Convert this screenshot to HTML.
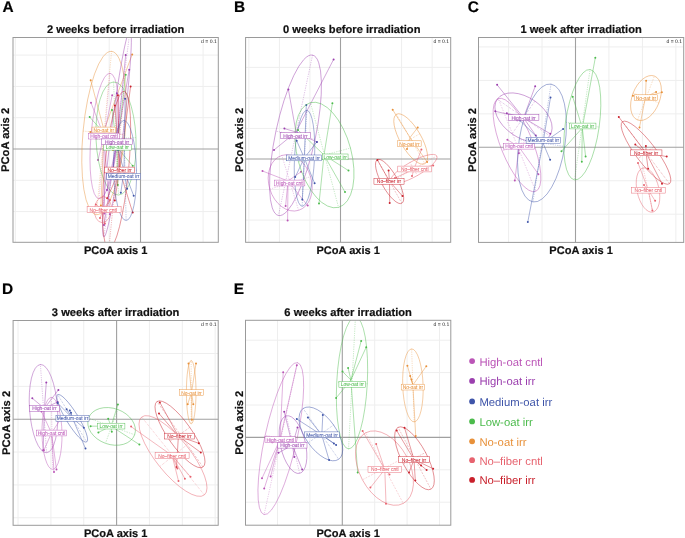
<!DOCTYPE html>
<html><head><meta charset="utf-8"><style>html,body{margin:0;padding:0;background:#fff;width:685px;height:538px;overflow:hidden}svg{display:block;will-change:transform}</style></head>
<body>
<svg text-rendering="geometricPrecision" width="685" height="538" viewBox="0 0 685 538" font-family='"Liberation Sans", sans-serif'><rect width="685" height="538" fill="#fff"/><clipPath id="clipA"><rect x="13.0" y="37.5" width="205.3" height="204.8"/></clipPath>
<g stroke="#eeeeee" stroke-width="1"><line x1="15.30" y1="37.5" x2="15.30" y2="242.3"/><line x1="46.60" y1="37.5" x2="46.60" y2="242.3"/><line x1="13.0" y1="55.10" x2="218.3" y2="55.10"/><line x1="77.90" y1="37.5" x2="77.90" y2="242.3"/><line x1="13.0" y1="86.40" x2="218.3" y2="86.40"/><line x1="109.20" y1="37.5" x2="109.20" y2="242.3"/><line x1="13.0" y1="117.70" x2="218.3" y2="117.70"/><line x1="171.80" y1="37.5" x2="171.80" y2="242.3"/><line x1="13.0" y1="180.30" x2="218.3" y2="180.30"/><line x1="203.10" y1="37.5" x2="203.10" y2="242.3"/><line x1="13.0" y1="211.60" x2="218.3" y2="211.60"/></g>
<g stroke="#a0a0a0" stroke-width="1.1"><line x1="140.5" y1="37.5" x2="140.5" y2="242.3"/><line x1="13.0" y1="149.0" x2="218.3" y2="149.0"/></g>
<g clip-path="url(#clipA)"><ellipse cx="104" cy="133" rx="82" ry="21" transform="rotate(95.3 104 133)" fill="none" stroke="#e8913a" stroke-width="0.45"/><path d="M111.57 51.35L96.43 214.65M124.91 134.94L83.09 131.06" stroke="#e8913a" stroke-width="0.5" stroke-dasharray="0.6 1.2" fill="none"/><line x1="104" y1="130" x2="132.2" y2="54.4" stroke="#e8913a" stroke-width="0.45"/><line x1="104" y1="130" x2="90.7" y2="80.3" stroke="#e8913a" stroke-width="0.45"/><line x1="104" y1="130" x2="90.3" y2="132" stroke="#e8913a" stroke-width="0.45"/><line x1="104" y1="130" x2="100.9" y2="205.6" stroke="#e8913a" stroke-width="0.45"/><line x1="104" y1="130" x2="113" y2="150" stroke="#e8913a" stroke-width="0.45"/><circle cx="132.2" cy="54.4" r="1.0" fill="#e8913a"/><circle cx="90.7" cy="80.3" r="1.0" fill="#e8913a"/><circle cx="90.3" cy="132" r="1.0" fill="#e8913a"/><circle cx="100.9" cy="205.6" r="1.0" fill="#e8913a"/><circle cx="113" cy="150" r="1.0" fill="#e8913a"/><ellipse cx="104.5" cy="136" rx="63" ry="13.5" transform="rotate(95 104.5 136)" fill="none" stroke="#bb55b7" stroke-width="0.45"/><path d="M109.99 73.24L99.01 198.76M117.95 137.18L91.05 134.82" stroke="#bb55b7" stroke-width="0.5" stroke-dasharray="0.6 1.2" fill="none"/><line x1="104" y1="136" x2="91" y2="102.8" stroke="#bb55b7" stroke-width="0.45"/><line x1="104" y1="136" x2="104.4" y2="213.6" stroke="#bb55b7" stroke-width="0.45"/><line x1="104" y1="136" x2="109.8" y2="214.2" stroke="#bb55b7" stroke-width="0.45"/><line x1="104" y1="136" x2="112.2" y2="95.2" stroke="#bb55b7" stroke-width="0.45"/><line x1="104" y1="136" x2="98" y2="160" stroke="#bb55b7" stroke-width="0.45"/><circle cx="91" cy="102.8" r="1.0" fill="#bb55b7"/><circle cx="104.4" cy="213.6" r="1.0" fill="#bb55b7"/><circle cx="109.8" cy="214.2" r="1.0" fill="#bb55b7"/><circle cx="112.2" cy="95.2" r="1.0" fill="#bb55b7"/><circle cx="98" cy="160" r="1.0" fill="#bb55b7"/><ellipse cx="116" cy="138.5" rx="56.6" ry="20" transform="rotate(87.5 116 138.5)" fill="none" stroke="#4cbb4c" stroke-width="0.45"/><path d="M113.53 81.95L118.47 195.05M135.98 137.63L96.02 139.37" stroke="#4cbb4c" stroke-width="0.5" stroke-dasharray="0.6 1.2" fill="none"/><line x1="117" y1="147.5" x2="125.7" y2="74.8" stroke="#4cbb4c" stroke-width="0.45"/><line x1="117" y1="147.5" x2="89.7" y2="117.1" stroke="#4cbb4c" stroke-width="0.45"/><line x1="117" y1="147.5" x2="132.7" y2="165.8" stroke="#4cbb4c" stroke-width="0.45"/><line x1="117" y1="147.5" x2="117.8" y2="185" stroke="#4cbb4c" stroke-width="0.45"/><line x1="117" y1="147.5" x2="112" y2="110" stroke="#4cbb4c" stroke-width="0.45"/><circle cx="125.7" cy="74.8" r="1.0" fill="#4cbb4c"/><circle cx="89.7" cy="117.1" r="1.0" fill="#4cbb4c"/><circle cx="132.7" cy="165.8" r="1.0" fill="#4cbb4c"/><circle cx="117.8" cy="185" r="1.0" fill="#4cbb4c"/><circle cx="112" cy="110" r="1.0" fill="#4cbb4c"/><ellipse cx="117" cy="133.5" rx="104.3" ry="6" transform="rotate(97.2 117 133.5)" fill="none" stroke="#9b3fae" stroke-width="0.45"/><path d="M130.07 30.02L103.93 236.98M122.95 134.25L111.05 132.75" stroke="#9b3fae" stroke-width="0.5" stroke-dasharray="0.6 1.2" fill="none"/><line x1="117" y1="141.5" x2="125.7" y2="55" stroke="#9b3fae" stroke-width="0.45"/><line x1="117" y1="141.5" x2="129.2" y2="69.7" stroke="#9b3fae" stroke-width="0.45"/><line x1="117" y1="141.5" x2="116.9" y2="93.2" stroke="#9b3fae" stroke-width="0.45"/><line x1="117" y1="141.5" x2="107" y2="190" stroke="#9b3fae" stroke-width="0.45"/><line x1="117" y1="141.5" x2="104" y2="225" stroke="#9b3fae" stroke-width="0.45"/><line x1="117" y1="141.5" x2="112" y2="175" stroke="#9b3fae" stroke-width="0.45"/><circle cx="125.7" cy="55" r="1.0" fill="#9b3fae"/><circle cx="129.2" cy="69.7" r="1.0" fill="#9b3fae"/><circle cx="116.9" cy="93.2" r="1.0" fill="#9b3fae"/><circle cx="107" cy="190" r="1.0" fill="#9b3fae"/><circle cx="104" cy="225" r="1.0" fill="#9b3fae"/><circle cx="112" cy="175" r="1.0" fill="#9b3fae"/><ellipse cx="116.5" cy="170" rx="79" ry="12" transform="rotate(95.5 116.5 170)" fill="none" stroke="#c9202b" stroke-width="0.45"/><path d="M124.07 91.36L108.93 248.64M128.44 171.15L104.56 168.85" stroke="#c9202b" stroke-width="0.5" stroke-dasharray="0.6 1.2" fill="none"/><line x1="119.5" y1="170" x2="130.6" y2="86.5" stroke="#c9202b" stroke-width="0.45"/><line x1="119.5" y1="170" x2="117.9" y2="95.2" stroke="#c9202b" stroke-width="0.45"/><line x1="119.5" y1="170" x2="114.9" y2="105.5" stroke="#c9202b" stroke-width="0.45"/><line x1="119.5" y1="170" x2="132.7" y2="212.6" stroke="#c9202b" stroke-width="0.45"/><line x1="119.5" y1="170" x2="114.8" y2="200.6" stroke="#c9202b" stroke-width="0.45"/><line x1="119.5" y1="170" x2="107.2" y2="198.3" stroke="#c9202b" stroke-width="0.45"/><circle cx="130.6" cy="86.5" r="1.0" fill="#c9202b"/><circle cx="117.9" cy="95.2" r="1.0" fill="#c9202b"/><circle cx="114.9" cy="105.5" r="1.0" fill="#c9202b"/><circle cx="132.7" cy="212.6" r="1.0" fill="#c9202b"/><circle cx="114.8" cy="200.6" r="1.0" fill="#c9202b"/><circle cx="107.2" cy="198.3" r="1.0" fill="#c9202b"/><ellipse cx="125" cy="170.5" rx="50" ry="11.5" transform="rotate(88.7 125 170.5)" fill="none" stroke="#3f55a9" stroke-width="0.45"/><path d="M123.87 120.51L126.13 220.49M136.50 170.24L113.50 170.76" stroke="#3f55a9" stroke-width="0.5" stroke-dasharray="0.6 1.2" fill="none"/><line x1="124" y1="170.6" x2="125.1" y2="98.7" stroke="#3f55a9" stroke-width="0.45"/><line x1="124" y1="170.6" x2="127.1" y2="188.7" stroke="#3f55a9" stroke-width="0.45"/><line x1="124" y1="170.6" x2="133.7" y2="195.7" stroke="#3f55a9" stroke-width="0.45"/><line x1="124" y1="170.6" x2="120.8" y2="192.7" stroke="#3f55a9" stroke-width="0.45"/><line x1="124" y1="170.6" x2="118" y2="150" stroke="#3f55a9" stroke-width="0.45"/><circle cx="125.1" cy="98.7" r="1.0" fill="#3f55a9"/><circle cx="127.1" cy="188.7" r="1.0" fill="#3f55a9"/><circle cx="133.7" cy="195.7" r="1.0" fill="#3f55a9"/><circle cx="120.8" cy="192.7" r="1.0" fill="#3f55a9"/><circle cx="118" cy="150" r="1.0" fill="#3f55a9"/><ellipse cx="102.9" cy="209.6" rx="13" ry="8.5" transform="rotate(95 102.9 209.6)" fill="none" stroke="#e7636f" stroke-width="0.45"/><path d="M104.03 196.65L101.77 222.55M111.37 210.34L94.43 208.86" stroke="#e7636f" stroke-width="0.5" stroke-dasharray="0.6 1.2" fill="none"/><line x1="103" y1="209.6" x2="95.9" y2="204.6" stroke="#e7636f" stroke-width="0.45"/><line x1="103" y1="209.6" x2="104.8" y2="223.5" stroke="#e7636f" stroke-width="0.45"/><line x1="103" y1="209.6" x2="110" y2="200" stroke="#e7636f" stroke-width="0.45"/><line x1="103" y1="209.6" x2="100" y2="218" stroke="#e7636f" stroke-width="0.45"/><circle cx="95.9" cy="204.6" r="1.0" fill="#e7636f"/><circle cx="104.8" cy="223.5" r="1.0" fill="#e7636f"/><circle cx="110" cy="200" r="1.0" fill="#e7636f"/><circle cx="100" cy="218" r="1.0" fill="#e7636f"/><rect x="92.00" y="127.10" width="23.6" height="5.8" fill="#fff" stroke="#e8913a" stroke-width="0.45"/><text x="103.80" y="132.00" font-size="5.6" fill="#e8913a" text-anchor="middle" stroke="#e8913a" stroke-width="0.05" textLength="20.50" lengthAdjust="spacingAndGlyphs">No-oat irr</text><rect x="88.35" y="133.20" width="31.3" height="5.8" fill="#fff" stroke="#bb55b7" stroke-width="0.45"/><text x="104.00" y="138.10" font-size="5.6" fill="#bb55b7" text-anchor="middle" stroke="#bb55b7" stroke-width="0.05" textLength="27.62" lengthAdjust="spacingAndGlyphs">High-oat cntl</text><rect x="103.40" y="144.30" width="28" height="5.8" fill="#fff" stroke="#4cbb4c" stroke-width="0.45"/><text x="117.40" y="149.20" font-size="5.6" fill="#4cbb4c" text-anchor="middle" stroke="#4cbb4c" stroke-width="0.05" textLength="23.24" lengthAdjust="spacingAndGlyphs">Low-oat irr</text><rect x="101.50" y="138.90" width="31.2" height="5.8" fill="#fff" stroke="#9b3fae" stroke-width="0.45"/><text x="117.10" y="143.80" font-size="5.6" fill="#9b3fae" text-anchor="middle" stroke="#9b3fae" stroke-width="0.05" textLength="24.33" lengthAdjust="spacingAndGlyphs">High-oat irr</text><rect x="104.45" y="167.10" width="30.3" height="5.8" fill="#fff" stroke="#c9202b" stroke-width="0.45"/><text x="119.60" y="172.00" font-size="5.6" fill="#c9202b" text-anchor="middle" stroke="#c9202b" stroke-width="0.05" textLength="24.33" lengthAdjust="spacingAndGlyphs">No–fiber irr</text><rect x="106.65" y="173.50" width="33.9" height="5.8" fill="#fff" stroke="#3f55a9" stroke-width="0.45"/><text x="123.60" y="178.40" font-size="5.6" fill="#3f55a9" text-anchor="middle" stroke="#3f55a9" stroke-width="0.05" textLength="31.71" lengthAdjust="spacingAndGlyphs">Medium-oat irr</text><rect x="87.10" y="206.60" width="34" height="5.8" fill="#fff" stroke="#e7636f" stroke-width="0.45"/><text x="103.20" y="211.50" font-size="5.6" fill="#e7636f" text-anchor="middle" stroke="#e7636f" stroke-width="0.05" textLength="27.62" lengthAdjust="spacingAndGlyphs">No–fiber cntl</text></g>
<rect x="200.8" y="38.0" width="17" height="5.6" fill="#fff"/>
<text x="216.8" y="42.85" font-size="5.1" text-anchor="end" fill="#222">d = 0.1</text>
<rect x="13.0" y="37.5" width="205.3" height="204.8" fill="none" stroke="#9a9a9a" stroke-width="1"/>
<text x="115.65" y="32.90" font-size="11.15" font-weight="bold" text-anchor="middle" fill="#111" stroke="#111" stroke-width="0.2">2 weeks before irradiation</text>
<text x="115.65" y="253.80" font-size="11.05" font-weight="bold" text-anchor="middle" fill="#111" stroke="#111" stroke-width="0.2">PCoA axis 1</text>
<text x="8.9" y="139.90" font-size="11.15" font-weight="bold" text-anchor="middle" fill="#111" stroke="#111" stroke-width="0.2" transform="rotate(-90 8.9 139.90)">PCoA axis 2</text>
<text x="2.5" y="12.0" font-size="15.4" font-weight="bold" fill="#000" stroke="#000" stroke-width="0.2">A</text><clipPath id="clipB"><rect x="245.6" y="37.5" width="205.1" height="204.8"/></clipPath>
<g stroke="#eeeeee" stroke-width="1"><line x1="248.85" y1="37.5" x2="248.85" y2="242.3"/><line x1="245.6" y1="67.35" x2="450.7" y2="67.35"/><line x1="279.40" y1="37.5" x2="279.40" y2="242.3"/><line x1="245.6" y1="97.90" x2="450.7" y2="97.90"/><line x1="309.95" y1="37.5" x2="309.95" y2="242.3"/><line x1="245.6" y1="128.45" x2="450.7" y2="128.45"/><line x1="371.05" y1="37.5" x2="371.05" y2="242.3"/><line x1="245.6" y1="189.55" x2="450.7" y2="189.55"/><line x1="401.60" y1="37.5" x2="401.60" y2="242.3"/><line x1="245.6" y1="220.10" x2="450.7" y2="220.10"/><line x1="432.15" y1="37.5" x2="432.15" y2="242.3"/></g>
<g stroke="#a0a0a0" stroke-width="1.1"><line x1="340.5" y1="37.5" x2="340.5" y2="242.3"/><line x1="245.6" y1="159.0" x2="450.7" y2="159.0"/></g>
<g clip-path="url(#clipB)"><ellipse cx="295.5" cy="135.3" rx="82" ry="20" transform="rotate(102 295.5 135.3)" fill="none" stroke="#9b3fae" stroke-width="0.45"/><path d="M312.55 55.09L278.45 215.51M315.06 139.46L275.94 131.14" stroke="#9b3fae" stroke-width="0.5" stroke-dasharray="0.6 1.2" fill="none"/><line x1="296" y1="132" x2="333.6" y2="59.4" stroke="#9b3fae" stroke-width="0.45"/><line x1="296" y1="132" x2="288.4" y2="89.5" stroke="#9b3fae" stroke-width="0.45"/><line x1="296" y1="132" x2="284.4" y2="128.6" stroke="#9b3fae" stroke-width="0.45"/><line x1="296" y1="132" x2="316.9" y2="142" stroke="#9b3fae" stroke-width="0.45"/><line x1="296" y1="132" x2="274" y2="150" stroke="#9b3fae" stroke-width="0.45"/><circle cx="333.6" cy="59.4" r="1.0" fill="#9b3fae"/><circle cx="288.4" cy="89.5" r="1.0" fill="#9b3fae"/><circle cx="284.4" cy="128.6" r="1.0" fill="#9b3fae"/><circle cx="316.9" cy="142" r="1.0" fill="#9b3fae"/><circle cx="274" cy="150" r="1.0" fill="#9b3fae"/><ellipse cx="290.2" cy="182.9" rx="28.7" ry="21.3" transform="rotate(73 290.2 182.9)" fill="none" stroke="#bb55b7" stroke-width="0.45"/><path d="M281.81 155.45L298.59 210.35M310.57 176.67L269.83 189.13" stroke="#bb55b7" stroke-width="0.5" stroke-dasharray="0.6 1.2" fill="none"/><line x1="288" y1="181" x2="262.5" y2="171" stroke="#bb55b7" stroke-width="0.45"/><line x1="288" y1="181" x2="287.6" y2="220.6" stroke="#bb55b7" stroke-width="0.45"/><line x1="288" y1="181" x2="285.6" y2="206" stroke="#bb55b7" stroke-width="0.45"/><line x1="288" y1="181" x2="307.7" y2="205.6" stroke="#bb55b7" stroke-width="0.45"/><line x1="288" y1="181" x2="301" y2="171.8" stroke="#bb55b7" stroke-width="0.45"/><circle cx="262.5" cy="171" r="1.0" fill="#bb55b7"/><circle cx="287.6" cy="220.6" r="1.0" fill="#bb55b7"/><circle cx="285.6" cy="206" r="1.0" fill="#bb55b7"/><circle cx="307.7" cy="205.6" r="1.0" fill="#bb55b7"/><circle cx="301" cy="171.8" r="1.0" fill="#bb55b7"/><ellipse cx="304.5" cy="158.3" rx="48" ry="10" transform="rotate(92.8 304.5 158.3)" fill="none" stroke="#3f55a9" stroke-width="0.45"/><path d="M306.84 110.36L302.16 206.24M314.49 158.79L294.51 157.81" stroke="#3f55a9" stroke-width="0.5" stroke-dasharray="0.6 1.2" fill="none"/><line x1="304.3" y1="158" x2="306.3" y2="105" stroke="#3f55a9" stroke-width="0.45"/><line x1="304.3" y1="158" x2="296.7" y2="140.8" stroke="#3f55a9" stroke-width="0.45"/><line x1="304.3" y1="158" x2="316.8" y2="141.9" stroke="#3f55a9" stroke-width="0.45"/><line x1="304.3" y1="158" x2="302.3" y2="199.5" stroke="#3f55a9" stroke-width="0.45"/><line x1="304.3" y1="158" x2="314.6" y2="183.2" stroke="#3f55a9" stroke-width="0.45"/><line x1="304.3" y1="158" x2="295.2" y2="177.1" stroke="#3f55a9" stroke-width="0.45"/><circle cx="306.3" cy="105" r="1.0" fill="#3f55a9"/><circle cx="296.7" cy="140.8" r="1.0" fill="#3f55a9"/><circle cx="316.8" cy="141.9" r="1.0" fill="#3f55a9"/><circle cx="302.3" cy="199.5" r="1.0" fill="#3f55a9"/><circle cx="314.6" cy="183.2" r="1.0" fill="#3f55a9"/><circle cx="295.2" cy="177.1" r="1.0" fill="#3f55a9"/><ellipse cx="324.5" cy="155" rx="54.2" ry="26.9" transform="rotate(75 324.5 155)" fill="none" stroke="#4cbb4c" stroke-width="0.45"/><path d="M310.47 102.65L338.53 207.35M350.48 148.04L298.52 161.96" stroke="#4cbb4c" stroke-width="0.5" stroke-dasharray="0.6 1.2" fill="none"/><line x1="324" y1="155" x2="332.4" y2="103.2" stroke="#4cbb4c" stroke-width="0.45"/><line x1="324" y1="155" x2="298" y2="130" stroke="#4cbb4c" stroke-width="0.45"/><line x1="324" y1="155" x2="348.5" y2="170.6" stroke="#4cbb4c" stroke-width="0.45"/><line x1="324" y1="155" x2="345" y2="192" stroke="#4cbb4c" stroke-width="0.45"/><line x1="324" y1="155" x2="319" y2="203.5" stroke="#4cbb4c" stroke-width="0.45"/><circle cx="332.4" cy="103.2" r="1.0" fill="#4cbb4c"/><circle cx="298" cy="130" r="1.0" fill="#4cbb4c"/><circle cx="348.5" cy="170.6" r="1.0" fill="#4cbb4c"/><circle cx="345" cy="192" r="1.0" fill="#4cbb4c"/><circle cx="319" cy="203.5" r="1.0" fill="#4cbb4c"/><ellipse cx="410.7" cy="139" rx="28.5" ry="10.5" transform="rotate(60 410.7 139)" fill="none" stroke="#e8913a" stroke-width="0.45"/><path d="M396.45 114.32L424.95 163.68M419.79 133.75L401.61 144.25" stroke="#e8913a" stroke-width="0.5" stroke-dasharray="0.6 1.2" fill="none"/><line x1="410" y1="137.5" x2="392.7" y2="109.8" stroke="#e8913a" stroke-width="0.45"/><line x1="410" y1="137.5" x2="417.7" y2="127.6" stroke="#e8913a" stroke-width="0.45"/><line x1="410" y1="137.5" x2="407" y2="149" stroke="#e8913a" stroke-width="0.45"/><line x1="410" y1="137.5" x2="427.1" y2="162" stroke="#e8913a" stroke-width="0.45"/><circle cx="392.7" cy="109.8" r="1.0" fill="#e8913a"/><circle cx="417.7" cy="127.6" r="1.0" fill="#e8913a"/><circle cx="407" cy="149" r="1.0" fill="#e8913a"/><circle cx="427.1" cy="162" r="1.0" fill="#e8913a"/><ellipse cx="413.7" cy="169" rx="26.5" ry="7.5" transform="rotate(-29.5 413.7 169)" fill="none" stroke="#e7636f" stroke-width="0.45"/><path d="M390.64 182.05L436.76 155.95M410.01 162.47L417.39 175.53" stroke="#e7636f" stroke-width="0.5" stroke-dasharray="0.6 1.2" fill="none"/><line x1="414" y1="169" x2="421.4" y2="149.5" stroke="#e7636f" stroke-width="0.45"/><line x1="414" y1="169" x2="433.2" y2="165.5" stroke="#e7636f" stroke-width="0.45"/><line x1="414" y1="169" x2="395" y2="178" stroke="#e7636f" stroke-width="0.45"/><line x1="414" y1="169" x2="412" y2="176" stroke="#e7636f" stroke-width="0.45"/><circle cx="421.4" cy="149.5" r="1.0" fill="#e7636f"/><circle cx="433.2" cy="165.5" r="1.0" fill="#e7636f"/><circle cx="395" cy="178" r="1.0" fill="#e7636f"/><circle cx="412" cy="176" r="1.0" fill="#e7636f"/><ellipse cx="389.6" cy="181.5" rx="25" ry="8" transform="rotate(60.6 389.6 181.5)" fill="none" stroke="#c9202b" stroke-width="0.45"/><path d="M377.33 159.72L401.87 203.28M396.57 177.57L382.63 185.43" stroke="#c9202b" stroke-width="0.5" stroke-dasharray="0.6 1.2" fill="none"/><line x1="389.5" y1="181.3" x2="377.4" y2="160" stroke="#c9202b" stroke-width="0.45"/><line x1="389.5" y1="181.3" x2="388.6" y2="170.6" stroke="#c9202b" stroke-width="0.45"/><line x1="389.5" y1="181.3" x2="402.5" y2="196.1" stroke="#c9202b" stroke-width="0.45"/><line x1="389.5" y1="181.3" x2="389.7" y2="202.9" stroke="#c9202b" stroke-width="0.45"/><circle cx="377.4" cy="160" r="1.0" fill="#c9202b"/><circle cx="388.6" cy="170.6" r="1.0" fill="#c9202b"/><circle cx="402.5" cy="196.1" r="1.0" fill="#c9202b"/><circle cx="389.7" cy="202.9" r="1.0" fill="#c9202b"/><rect x="280.35" y="132.70" width="30.1" height="5.8" fill="#fff" stroke="#9b3fae" stroke-width="0.45"/><text x="295.40" y="137.60" font-size="5.6" fill="#9b3fae" text-anchor="middle" stroke="#9b3fae" stroke-width="0.05" textLength="24.33" lengthAdjust="spacingAndGlyphs">High-oat irr</text><rect x="274.75" y="180.10" width="30.1" height="5.8" fill="#fff" stroke="#bb55b7" stroke-width="0.45"/><text x="289.80" y="185.00" font-size="5.6" fill="#bb55b7" text-anchor="middle" stroke="#bb55b7" stroke-width="0.05" textLength="27.62" lengthAdjust="spacingAndGlyphs">High-oat cntl</text><rect x="286.70" y="155.00" width="34.8" height="5.8" fill="#fff" stroke="#3f55a9" stroke-width="0.45"/><text x="304.10" y="159.90" font-size="5.6" fill="#3f55a9" text-anchor="middle" stroke="#3f55a9" stroke-width="0.05" textLength="31.71" lengthAdjust="spacingAndGlyphs">Medium-oat irr</text><rect x="322.35" y="154.00" width="25.7" height="5.8" fill="#fff" stroke="#4cbb4c" stroke-width="0.45"/><text x="335.20" y="158.90" font-size="5.6" fill="#4cbb4c" text-anchor="middle" stroke="#4cbb4c" stroke-width="0.05" textLength="23.24" lengthAdjust="spacingAndGlyphs">Low-oat irr</text><rect x="397.65" y="140.80" width="23.5" height="5.8" fill="#fff" stroke="#e8913a" stroke-width="0.45"/><text x="409.40" y="145.70" font-size="5.6" fill="#e8913a" text-anchor="middle" stroke="#e8913a" stroke-width="0.05" textLength="20.50" lengthAdjust="spacingAndGlyphs">No-oat irr</text><rect x="397.80" y="166.10" width="33.8" height="5.8" fill="#fff" stroke="#e7636f" stroke-width="0.45"/><text x="414.70" y="171.00" font-size="5.6" fill="#e7636f" text-anchor="middle" stroke="#e7636f" stroke-width="0.05" textLength="27.62" lengthAdjust="spacingAndGlyphs">No–fiber cntl</text><rect x="373.95" y="178.40" width="30.1" height="5.8" fill="#fff" stroke="#c9202b" stroke-width="0.45"/><text x="389.00" y="183.30" font-size="5.6" fill="#c9202b" text-anchor="middle" stroke="#c9202b" stroke-width="0.05" textLength="24.33" lengthAdjust="spacingAndGlyphs">No–fiber irr</text></g>
<rect x="433.2" y="38.0" width="17" height="5.6" fill="#fff"/>
<text x="449.2" y="42.85" font-size="5.1" text-anchor="end" fill="#222">d = 0.1</text>
<rect x="245.6" y="37.5" width="205.1" height="204.8" fill="none" stroke="#9a9a9a" stroke-width="1"/>
<text x="351.75" y="32.90" font-size="11.15" font-weight="bold" text-anchor="middle" fill="#111" stroke="#111" stroke-width="0.2">0 weeks before irradiation</text>
<text x="348.15" y="253.80" font-size="11.05" font-weight="bold" text-anchor="middle" fill="#111" stroke="#111" stroke-width="0.2">PCoA axis 1</text>
<text x="242.6" y="139.90" font-size="11.15" font-weight="bold" text-anchor="middle" fill="#111" stroke="#111" stroke-width="0.2" transform="rotate(-90 242.6 139.90)">PCoA axis 2</text>
<text x="234.0" y="12.0" font-size="15.4" font-weight="bold" fill="#000" stroke="#000" stroke-width="0.2">B</text><clipPath id="clipC"><rect x="478.5" y="37.5" width="205.20000000000005" height="204.9"/></clipPath>
<g stroke="#eeeeee" stroke-width="1"><line x1="478.5" y1="46.95" x2="683.7" y2="46.95"/><line x1="508.60" y1="37.5" x2="508.60" y2="242.4"/><line x1="478.5" y1="80.40" x2="683.7" y2="80.40"/><line x1="542.05" y1="37.5" x2="542.05" y2="242.4"/><line x1="478.5" y1="113.85" x2="683.7" y2="113.85"/><line x1="608.95" y1="37.5" x2="608.95" y2="242.4"/><line x1="478.5" y1="180.75" x2="683.7" y2="180.75"/><line x1="642.40" y1="37.5" x2="642.40" y2="242.4"/><line x1="478.5" y1="214.20" x2="683.7" y2="214.20"/><line x1="675.85" y1="37.5" x2="675.85" y2="242.4"/></g>
<g stroke="#a0a0a0" stroke-width="1.1"><line x1="575.5" y1="37.5" x2="575.5" y2="242.4"/><line x1="478.5" y1="147.3" x2="683.7" y2="147.3"/></g>
<g clip-path="url(#clipC)"><ellipse cx="523.5" cy="117.5" rx="32" ry="20" transform="rotate(35 523.5 117.5)" fill="none" stroke="#9b3fae" stroke-width="0.45"/><path d="M497.29 99.15L549.71 135.85M534.97 101.12L512.03 133.88" stroke="#9b3fae" stroke-width="0.5" stroke-dasharray="0.6 1.2" fill="none"/><line x1="523.5" y1="117.8" x2="497.1" y2="84.8" stroke="#9b3fae" stroke-width="0.45"/><line x1="523.5" y1="117.8" x2="535.2" y2="86.3" stroke="#9b3fae" stroke-width="0.45"/><line x1="523.5" y1="117.8" x2="495.3" y2="111.3" stroke="#9b3fae" stroke-width="0.45"/><line x1="523.5" y1="117.8" x2="506.8" y2="113.2" stroke="#9b3fae" stroke-width="0.45"/><line x1="523.5" y1="117.8" x2="535.8" y2="135.5" stroke="#9b3fae" stroke-width="0.45"/><line x1="523.5" y1="117.8" x2="550.3" y2="133.8" stroke="#9b3fae" stroke-width="0.45"/><circle cx="497.1" cy="84.8" r="1.0" fill="#9b3fae"/><circle cx="535.2" cy="86.3" r="1.0" fill="#9b3fae"/><circle cx="495.3" cy="111.3" r="1.0" fill="#9b3fae"/><circle cx="506.8" cy="113.2" r="1.0" fill="#9b3fae"/><circle cx="535.8" cy="135.5" r="1.0" fill="#9b3fae"/><circle cx="550.3" cy="133.8" r="1.0" fill="#9b3fae"/><ellipse cx="517" cy="145" rx="50" ry="16" transform="rotate(68 517 145)" fill="none" stroke="#bb55b7" stroke-width="0.45"/><path d="M498.27 98.64L535.73 191.36M531.83 139.01L502.17 150.99" stroke="#bb55b7" stroke-width="0.5" stroke-dasharray="0.6 1.2" fill="none"/><line x1="519" y1="147" x2="507.4" y2="139.7" stroke="#bb55b7" stroke-width="0.45"/><line x1="519" y1="147" x2="518.9" y2="153.2" stroke="#bb55b7" stroke-width="0.45"/><line x1="519" y1="147" x2="514.8" y2="180.6" stroke="#bb55b7" stroke-width="0.45"/><line x1="519" y1="147" x2="538.4" y2="174.2" stroke="#bb55b7" stroke-width="0.45"/><circle cx="507.4" cy="139.7" r="1.0" fill="#bb55b7"/><circle cx="518.9" cy="153.2" r="1.0" fill="#bb55b7"/><circle cx="514.8" cy="180.6" r="1.0" fill="#bb55b7"/><circle cx="538.4" cy="174.2" r="1.0" fill="#bb55b7"/><ellipse cx="542" cy="143" rx="59.6" ry="23" transform="rotate(98.7 542 143)" fill="none" stroke="#3f55a9" stroke-width="0.45"/><path d="M551.02 84.09L532.98 201.91M564.74 146.48L519.26 139.52" stroke="#3f55a9" stroke-width="0.5" stroke-dasharray="0.6 1.2" fill="none"/><line x1="543" y1="143" x2="550.5" y2="97.4" stroke="#3f55a9" stroke-width="0.45"/><line x1="543" y1="143" x2="563.1" y2="129" stroke="#3f55a9" stroke-width="0.45"/><line x1="543" y1="143" x2="550.1" y2="159.7" stroke="#3f55a9" stroke-width="0.45"/><line x1="543" y1="143" x2="527.8" y2="222" stroke="#3f55a9" stroke-width="0.45"/><line x1="543" y1="143" x2="520" y2="120.5" stroke="#3f55a9" stroke-width="0.45"/><circle cx="550.5" cy="97.4" r="1.0" fill="#3f55a9"/><circle cx="563.1" cy="129" r="1.0" fill="#3f55a9"/><circle cx="550.1" cy="159.7" r="1.0" fill="#3f55a9"/><circle cx="527.8" cy="222" r="1.0" fill="#3f55a9"/><circle cx="520" cy="120.5" r="1.0" fill="#3f55a9"/><ellipse cx="582.3" cy="124.7" rx="55.7" ry="17" transform="rotate(98 582.3 124.7)" fill="none" stroke="#4cbb4c" stroke-width="0.45"/><path d="M590.05 69.54L574.55 179.86M599.13 127.07L565.47 122.33" stroke="#4cbb4c" stroke-width="0.5" stroke-dasharray="0.6 1.2" fill="none"/><line x1="582.3" y1="127.9" x2="595.3" y2="57.8" stroke="#4cbb4c" stroke-width="0.45"/><line x1="582.3" y1="127.9" x2="572.7" y2="96.8" stroke="#4cbb4c" stroke-width="0.45"/><line x1="582.3" y1="127.9" x2="561.5" y2="151.3" stroke="#4cbb4c" stroke-width="0.45"/><line x1="582.3" y1="127.9" x2="581.8" y2="161.7" stroke="#4cbb4c" stroke-width="0.45"/><line x1="582.3" y1="127.9" x2="585.6" y2="156.5" stroke="#4cbb4c" stroke-width="0.45"/><circle cx="595.3" cy="57.8" r="1.0" fill="#4cbb4c"/><circle cx="572.7" cy="96.8" r="1.0" fill="#4cbb4c"/><circle cx="561.5" cy="151.3" r="1.0" fill="#4cbb4c"/><circle cx="581.8" cy="161.7" r="1.0" fill="#4cbb4c"/><circle cx="585.6" cy="156.5" r="1.0" fill="#4cbb4c"/><ellipse cx="646" cy="98" rx="23.5" ry="13.8" transform="rotate(-69 646 98)" fill="none" stroke="#e8913a" stroke-width="0.45"/><path d="M637.58 119.94L654.42 76.06M633.12 93.05L658.88 102.95" stroke="#e8913a" stroke-width="0.5" stroke-dasharray="0.6 1.2" fill="none"/><line x1="645.5" y1="97" x2="646.1" y2="80.8" stroke="#e8913a" stroke-width="0.45"/><line x1="645.5" y1="97" x2="656.1" y2="91.9" stroke="#e8913a" stroke-width="0.45"/><line x1="645.5" y1="97" x2="661.9" y2="92.3" stroke="#e8913a" stroke-width="0.45"/><line x1="645.5" y1="97" x2="632.9" y2="95.8" stroke="#e8913a" stroke-width="0.45"/><line x1="645.5" y1="97" x2="639.5" y2="127.4" stroke="#e8913a" stroke-width="0.45"/><circle cx="646.1" cy="80.8" r="1.0" fill="#e8913a"/><circle cx="656.1" cy="91.9" r="1.0" fill="#e8913a"/><circle cx="661.9" cy="92.3" r="1.0" fill="#e8913a"/><circle cx="632.9" cy="95.8" r="1.0" fill="#e8913a"/><circle cx="639.5" cy="127.4" r="1.0" fill="#e8913a"/><ellipse cx="646" cy="152.7" rx="38.9" ry="10" transform="rotate(52.8 646 152.7)" fill="none" stroke="#c9202b" stroke-width="0.45"/><path d="M622.48 121.71L669.52 183.69M653.97 146.65L638.03 158.75" stroke="#c9202b" stroke-width="0.5" stroke-dasharray="0.6 1.2" fill="none"/><line x1="646" y1="152.8" x2="618.8" y2="117" stroke="#c9202b" stroke-width="0.45"/><line x1="646" y1="152.8" x2="635.3" y2="144.6" stroke="#c9202b" stroke-width="0.45"/><line x1="646" y1="152.8" x2="645.9" y2="145.9" stroke="#c9202b" stroke-width="0.45"/><line x1="646" y1="152.8" x2="666.7" y2="156.6" stroke="#c9202b" stroke-width="0.45"/><line x1="646" y1="152.8" x2="648.1" y2="168.8" stroke="#c9202b" stroke-width="0.45"/><line x1="646" y1="152.8" x2="662" y2="183.7" stroke="#c9202b" stroke-width="0.45"/><circle cx="618.8" cy="117" r="1.0" fill="#c9202b"/><circle cx="635.3" cy="144.6" r="1.0" fill="#c9202b"/><circle cx="645.9" cy="145.9" r="1.0" fill="#c9202b"/><circle cx="666.7" cy="156.6" r="1.0" fill="#c9202b"/><circle cx="648.1" cy="168.8" r="1.0" fill="#c9202b"/><circle cx="662" cy="183.7" r="1.0" fill="#c9202b"/><ellipse cx="648" cy="190" rx="22.6" ry="11" transform="rotate(77.6 648 190)" fill="none" stroke="#e7636f" stroke-width="0.45"/><path d="M643.15 167.93L652.85 212.07M658.74 187.64L637.26 192.36" stroke="#e7636f" stroke-width="0.5" stroke-dasharray="0.6 1.2" fill="none"/><line x1="648.4" y1="190.2" x2="638" y2="163" stroke="#e7636f" stroke-width="0.45"/><line x1="648.4" y1="190.2" x2="655.1" y2="200.8" stroke="#e7636f" stroke-width="0.45"/><line x1="648.4" y1="190.2" x2="652.4" y2="210.4" stroke="#e7636f" stroke-width="0.45"/><line x1="648.4" y1="190.2" x2="644" y2="185" stroke="#e7636f" stroke-width="0.45"/><circle cx="638" cy="163" r="1.0" fill="#e7636f"/><circle cx="655.1" cy="200.8" r="1.0" fill="#e7636f"/><circle cx="652.4" cy="210.4" r="1.0" fill="#e7636f"/><circle cx="644" cy="185" r="1.0" fill="#e7636f"/><rect x="508.30" y="114.60" width="30.6" height="5.8" fill="#fff" stroke="#9b3fae" stroke-width="0.45"/><text x="523.60" y="119.50" font-size="5.6" fill="#9b3fae" text-anchor="middle" stroke="#9b3fae" stroke-width="0.05" textLength="24.33" lengthAdjust="spacingAndGlyphs">High-oat irr</text><rect x="503.60" y="143.30" width="31" height="5.8" fill="#fff" stroke="#bb55b7" stroke-width="0.45"/><text x="519.10" y="148.20" font-size="5.6" fill="#bb55b7" text-anchor="middle" stroke="#bb55b7" stroke-width="0.05" textLength="27.62" lengthAdjust="spacingAndGlyphs">High-oat cntl</text><rect x="526.10" y="137.40" width="34.6" height="5.8" fill="#fff" stroke="#3f55a9" stroke-width="0.45"/><text x="543.40" y="142.30" font-size="5.6" fill="#3f55a9" text-anchor="middle" stroke="#3f55a9" stroke-width="0.05" textLength="31.71" lengthAdjust="spacingAndGlyphs">Medium-oat irr</text><rect x="569.25" y="123.10" width="26.7" height="5.8" fill="#fff" stroke="#4cbb4c" stroke-width="0.45"/><text x="582.60" y="128.00" font-size="5.6" fill="#4cbb4c" text-anchor="middle" stroke="#4cbb4c" stroke-width="0.05" textLength="23.24" lengthAdjust="spacingAndGlyphs">Low-oat irr</text><rect x="634.20" y="94.80" width="23.4" height="5.8" fill="#fff" stroke="#e8913a" stroke-width="0.45"/><text x="645.90" y="99.70" font-size="5.6" fill="#e8913a" text-anchor="middle" stroke="#e8913a" stroke-width="0.05" textLength="20.50" lengthAdjust="spacingAndGlyphs">No-oat irr</text><rect x="630.25" y="149.90" width="31.7" height="5.8" fill="#fff" stroke="#c9202b" stroke-width="0.45"/><text x="646.10" y="154.80" font-size="5.6" fill="#c9202b" text-anchor="middle" stroke="#c9202b" stroke-width="0.05" textLength="24.33" lengthAdjust="spacingAndGlyphs">No–fiber irr</text><rect x="631.60" y="187.30" width="33.6" height="5.8" fill="#fff" stroke="#e7636f" stroke-width="0.45"/><text x="648.40" y="192.20" font-size="5.6" fill="#e7636f" text-anchor="middle" stroke="#e7636f" stroke-width="0.05" textLength="27.62" lengthAdjust="spacingAndGlyphs">No–fiber cntl</text></g>
<rect x="666.2" y="38.0" width="17" height="5.6" fill="#fff"/>
<text x="682.2" y="42.85" font-size="5.1" text-anchor="end" fill="#222">d = 0.1</text>
<rect x="478.5" y="37.5" width="205.20000000000005" height="204.9" fill="none" stroke="#9a9a9a" stroke-width="1"/>
<text x="581.10" y="32.90" font-size="11.15" font-weight="bold" text-anchor="middle" fill="#111" stroke="#111" stroke-width="0.2">1 week after irradiation</text>
<text x="581.10" y="253.90" font-size="11.05" font-weight="bold" text-anchor="middle" fill="#111" stroke="#111" stroke-width="0.2">PCoA axis 1</text>
<text x="476.0" y="139.95" font-size="11.15" font-weight="bold" text-anchor="middle" fill="#111" stroke="#111" stroke-width="0.2" transform="rotate(-90 476.0 139.95)">PCoA axis 2</text>
<text x="467.7" y="12.0" font-size="15.4" font-weight="bold" fill="#000" stroke="#000" stroke-width="0.2">C</text><clipPath id="clipD"><rect x="13.1" y="320.5" width="205.1" height="204.79999999999995"/></clipPath>
<g stroke="#eeeeee" stroke-width="1"><line x1="18.05" y1="320.5" x2="18.05" y2="525.3"/><line x1="50.90" y1="320.5" x2="50.90" y2="525.3"/><line x1="13.1" y1="353.50" x2="218.2" y2="353.50"/><line x1="83.75" y1="320.5" x2="83.75" y2="525.3"/><line x1="13.1" y1="386.35" x2="218.2" y2="386.35"/><line x1="149.45" y1="320.5" x2="149.45" y2="525.3"/><line x1="13.1" y1="452.05" x2="218.2" y2="452.05"/><line x1="182.30" y1="320.5" x2="182.30" y2="525.3"/><line x1="13.1" y1="484.90" x2="218.2" y2="484.90"/><line x1="215.15" y1="320.5" x2="215.15" y2="525.3"/><line x1="13.1" y1="517.75" x2="218.2" y2="517.75"/></g>
<g stroke="#a0a0a0" stroke-width="1.1"><line x1="116.6" y1="320.5" x2="116.6" y2="525.3"/><line x1="13.1" y1="419.2" x2="218.2" y2="419.2"/></g>
<g clip-path="url(#clipD)"><ellipse cx="43.5" cy="408.6" rx="44.2" ry="14" transform="rotate(86 43.5 408.6)" fill="none" stroke="#9b3fae" stroke-width="0.45"/><path d="M40.42 364.51L46.58 452.69M57.47 407.62L29.53 409.58" stroke="#9b3fae" stroke-width="0.5" stroke-dasharray="0.6 1.2" fill="none"/><line x1="44.4" y1="408.3" x2="46.3" y2="382.6" stroke="#9b3fae" stroke-width="0.45"/><line x1="44.4" y1="408.3" x2="32.3" y2="398.3" stroke="#9b3fae" stroke-width="0.45"/><line x1="44.4" y1="408.3" x2="58.4" y2="389.9" stroke="#9b3fae" stroke-width="0.45"/><line x1="44.4" y1="408.3" x2="57.7" y2="401.9" stroke="#9b3fae" stroke-width="0.45"/><line x1="44.4" y1="408.3" x2="43.2" y2="450.2" stroke="#9b3fae" stroke-width="0.45"/><circle cx="46.3" cy="382.6" r="1.0" fill="#9b3fae"/><circle cx="32.3" cy="398.3" r="1.0" fill="#9b3fae"/><circle cx="58.4" cy="389.9" r="1.0" fill="#9b3fae"/><circle cx="57.7" cy="401.9" r="1.0" fill="#9b3fae"/><circle cx="43.2" cy="450.2" r="1.0" fill="#9b3fae"/><ellipse cx="52" cy="433.4" rx="36" ry="10" transform="rotate(89 52 433.4)" fill="none" stroke="#bb55b7" stroke-width="0.45"/><path d="M51.37 397.41L52.63 469.39M62.00 433.23L42.00 433.57" stroke="#bb55b7" stroke-width="0.5" stroke-dasharray="0.6 1.2" fill="none"/><line x1="51.5" y1="433" x2="54" y2="472" stroke="#bb55b7" stroke-width="0.45"/><line x1="51.5" y1="433" x2="56.5" y2="469.6" stroke="#bb55b7" stroke-width="0.45"/><line x1="51.5" y1="433" x2="43.9" y2="450.2" stroke="#bb55b7" stroke-width="0.45"/><line x1="51.5" y1="433" x2="41.5" y2="411.6" stroke="#bb55b7" stroke-width="0.45"/><line x1="51.5" y1="433" x2="60" y2="420" stroke="#bb55b7" stroke-width="0.45"/><circle cx="54" cy="472" r="1.0" fill="#bb55b7"/><circle cx="56.5" cy="469.6" r="1.0" fill="#bb55b7"/><circle cx="43.9" cy="450.2" r="1.0" fill="#bb55b7"/><circle cx="41.5" cy="411.6" r="1.0" fill="#bb55b7"/><circle cx="60" cy="420" r="1.0" fill="#bb55b7"/><ellipse cx="72.2" cy="418.3" rx="27.7" ry="6" transform="rotate(58.4 72.2 418.3)" fill="none" stroke="#3f55a9" stroke-width="0.45"/><path d="M57.69 394.71L86.71 441.89M77.31 415.16L67.09 421.44" stroke="#3f55a9" stroke-width="0.5" stroke-dasharray="0.6 1.2" fill="none"/><line x1="72.5" y1="418.3" x2="57.7" y2="403.1" stroke="#3f55a9" stroke-width="0.45"/><line x1="72.5" y1="418.3" x2="66.6" y2="409.2" stroke="#3f55a9" stroke-width="0.45"/><line x1="72.5" y1="418.3" x2="69.8" y2="410.4" stroke="#3f55a9" stroke-width="0.45"/><line x1="72.5" y1="418.3" x2="71" y2="412.8" stroke="#3f55a9" stroke-width="0.45"/><line x1="72.5" y1="418.3" x2="83.8" y2="427.8" stroke="#3f55a9" stroke-width="0.45"/><line x1="72.5" y1="418.3" x2="85.5" y2="448.6" stroke="#3f55a9" stroke-width="0.45"/><circle cx="57.7" cy="403.1" r="1.0" fill="#3f55a9"/><circle cx="66.6" cy="409.2" r="1.0" fill="#3f55a9"/><circle cx="69.8" cy="410.4" r="1.0" fill="#3f55a9"/><circle cx="71" cy="412.8" r="1.0" fill="#3f55a9"/><circle cx="83.8" cy="427.8" r="1.0" fill="#3f55a9"/><circle cx="85.5" cy="448.6" r="1.0" fill="#3f55a9"/><ellipse cx="111.6" cy="426.4" rx="24.5" ry="18" transform="rotate(20 111.6 426.4)" fill="none" stroke="#4cbb4c" stroke-width="0.45"/><path d="M88.58 418.02L134.62 434.78M117.76 409.49L105.44 443.31" stroke="#4cbb4c" stroke-width="0.5" stroke-dasharray="0.6 1.2" fill="none"/><line x1="111.1" y1="426.1" x2="117.9" y2="404.5" stroke="#4cbb4c" stroke-width="0.45"/><line x1="111.1" y1="426.1" x2="108.2" y2="418.8" stroke="#4cbb4c" stroke-width="0.45"/><line x1="111.1" y1="426.1" x2="90.6" y2="426.2" stroke="#4cbb4c" stroke-width="0.45"/><line x1="111.1" y1="426.1" x2="98.4" y2="432.4" stroke="#4cbb4c" stroke-width="0.45"/><line x1="111.1" y1="426.1" x2="111.8" y2="431.8" stroke="#4cbb4c" stroke-width="0.45"/><line x1="111.1" y1="426.1" x2="139.4" y2="444.6" stroke="#4cbb4c" stroke-width="0.45"/><circle cx="117.9" cy="404.5" r="1.0" fill="#4cbb4c"/><circle cx="108.2" cy="418.8" r="1.0" fill="#4cbb4c"/><circle cx="90.6" cy="426.2" r="1.0" fill="#4cbb4c"/><circle cx="98.4" cy="432.4" r="1.0" fill="#4cbb4c"/><circle cx="111.8" cy="431.8" r="1.0" fill="#4cbb4c"/><circle cx="139.4" cy="444.6" r="1.0" fill="#4cbb4c"/><ellipse cx="191.2" cy="392.2" rx="31.6" ry="4.8" transform="rotate(90 191.2 392.2)" fill="none" stroke="#e8913a" stroke-width="0.45"/><path d="M191.20 360.60L191.20 423.80M196.00 392.20L186.40 392.20" stroke="#e8913a" stroke-width="0.5" stroke-dasharray="0.6 1.2" fill="none"/><line x1="191.5" y1="392.5" x2="188.5" y2="363.4" stroke="#e8913a" stroke-width="0.45"/><line x1="191.5" y1="392.5" x2="196" y2="363.4" stroke="#e8913a" stroke-width="0.45"/><line x1="191.5" y1="392.5" x2="193.3" y2="404.3" stroke="#e8913a" stroke-width="0.45"/><line x1="191.5" y1="392.5" x2="187.7" y2="404.3" stroke="#e8913a" stroke-width="0.45"/><line x1="191.5" y1="392.5" x2="191.9" y2="419.7" stroke="#e8913a" stroke-width="0.45"/><circle cx="188.5" cy="363.4" r="1.0" fill="#e8913a"/><circle cx="196" cy="363.4" r="1.0" fill="#e8913a"/><circle cx="193.3" cy="404.3" r="1.0" fill="#e8913a"/><circle cx="187.7" cy="404.3" r="1.0" fill="#e8913a"/><circle cx="191.9" cy="419.7" r="1.0" fill="#e8913a"/><ellipse cx="180" cy="434.3" rx="40" ry="12" transform="rotate(54.9 180 434.3)" fill="none" stroke="#c9202b" stroke-width="0.45"/><path d="M157.00 401.57L203.00 467.03M189.82 427.40L170.18 441.20" stroke="#c9202b" stroke-width="0.5" stroke-dasharray="0.6 1.2" fill="none"/><line x1="178.4" y1="436.1" x2="159.8" y2="402.4" stroke="#c9202b" stroke-width="0.45"/><line x1="178.4" y1="436.1" x2="159" y2="413.5" stroke="#c9202b" stroke-width="0.45"/><line x1="178.4" y1="436.1" x2="198.8" y2="443.3" stroke="#c9202b" stroke-width="0.45"/><line x1="178.4" y1="436.1" x2="200.8" y2="452.5" stroke="#c9202b" stroke-width="0.45"/><line x1="178.4" y1="436.1" x2="176.5" y2="467" stroke="#c9202b" stroke-width="0.45"/><circle cx="159.8" cy="402.4" r="1.0" fill="#c9202b"/><circle cx="159" cy="413.5" r="1.0" fill="#c9202b"/><circle cx="198.8" cy="443.3" r="1.0" fill="#c9202b"/><circle cx="200.8" cy="452.5" r="1.0" fill="#c9202b"/><circle cx="176.5" cy="467" r="1.0" fill="#c9202b"/><ellipse cx="173" cy="456" rx="50" ry="17" transform="rotate(51.2 173 456)" fill="none" stroke="#e7636f" stroke-width="0.45"/><path d="M141.67 417.03L204.33 494.97M186.25 445.35L159.75 466.65" stroke="#e7636f" stroke-width="0.5" stroke-dasharray="0.6 1.2" fill="none"/><line x1="172.1" y1="455.6" x2="131.1" y2="426.6" stroke="#e7636f" stroke-width="0.45"/><line x1="172.1" y1="455.6" x2="177.4" y2="468.4" stroke="#e7636f" stroke-width="0.45"/><line x1="172.1" y1="455.6" x2="184.9" y2="478.7" stroke="#e7636f" stroke-width="0.45"/><line x1="172.1" y1="455.6" x2="190.5" y2="476.8" stroke="#e7636f" stroke-width="0.45"/><line x1="172.1" y1="455.6" x2="178.5" y2="481" stroke="#e7636f" stroke-width="0.45"/><circle cx="131.1" cy="426.6" r="1.0" fill="#e7636f"/><circle cx="177.4" cy="468.4" r="1.0" fill="#e7636f"/><circle cx="184.9" cy="478.7" r="1.0" fill="#e7636f"/><circle cx="190.5" cy="476.8" r="1.0" fill="#e7636f"/><circle cx="178.5" cy="481" r="1.0" fill="#e7636f"/><rect x="29.40" y="405.40" width="30" height="5.8" fill="#fff" stroke="#9b3fae" stroke-width="0.45"/><text x="44.40" y="410.30" font-size="5.6" fill="#9b3fae" text-anchor="middle" stroke="#9b3fae" stroke-width="0.05" textLength="24.33" lengthAdjust="spacingAndGlyphs">High-oat irr</text><rect x="36.40" y="430.10" width="30.2" height="5.8" fill="#fff" stroke="#bb55b7" stroke-width="0.45"/><text x="51.50" y="435.00" font-size="5.6" fill="#bb55b7" text-anchor="middle" stroke="#bb55b7" stroke-width="0.05" textLength="27.62" lengthAdjust="spacingAndGlyphs">High-oat cntl</text><rect x="55.95" y="415.40" width="33.1" height="5.8" fill="#fff" stroke="#3f55a9" stroke-width="0.45"/><text x="72.50" y="420.30" font-size="5.6" fill="#3f55a9" text-anchor="middle" stroke="#3f55a9" stroke-width="0.05" textLength="31.71" lengthAdjust="spacingAndGlyphs">Medium-oat irr</text><rect x="97.30" y="423.20" width="27.6" height="5.8" fill="#fff" stroke="#4cbb4c" stroke-width="0.45"/><text x="111.10" y="428.10" font-size="5.6" fill="#4cbb4c" text-anchor="middle" stroke="#4cbb4c" stroke-width="0.05" textLength="23.24" lengthAdjust="spacingAndGlyphs">Low-oat irr</text><rect x="179.35" y="389.60" width="24.3" height="5.8" fill="#fff" stroke="#e8913a" stroke-width="0.45"/><text x="191.50" y="394.50" font-size="5.6" fill="#e8913a" text-anchor="middle" stroke="#e8913a" stroke-width="0.05" textLength="20.50" lengthAdjust="spacingAndGlyphs">No-oat irr</text><rect x="164.30" y="433.20" width="30.2" height="5.8" fill="#fff" stroke="#c9202b" stroke-width="0.45"/><text x="179.40" y="438.10" font-size="5.6" fill="#c9202b" text-anchor="middle" stroke="#c9202b" stroke-width="0.05" textLength="24.33" lengthAdjust="spacingAndGlyphs">No–fiber irr</text><rect x="155.10" y="452.70" width="34" height="5.8" fill="#fff" stroke="#e7636f" stroke-width="0.45"/><text x="172.10" y="457.60" font-size="5.6" fill="#e7636f" text-anchor="middle" stroke="#e7636f" stroke-width="0.05" textLength="27.62" lengthAdjust="spacingAndGlyphs">No–fiber cntl</text></g>
<rect x="200.7" y="321.0" width="17" height="5.6" fill="#fff"/>
<text x="216.7" y="325.85" font-size="5.1" text-anchor="end" fill="#222">d = 0.1</text>
<rect x="13.1" y="320.5" width="205.1" height="204.79999999999995" fill="none" stroke="#9a9a9a" stroke-width="1"/>
<text x="115.65" y="315.90" font-size="11.15" font-weight="bold" text-anchor="middle" fill="#111" stroke="#111" stroke-width="0.2">3 weeks after irradiation</text>
<text x="115.65" y="536.80" font-size="11.05" font-weight="bold" text-anchor="middle" fill="#111" stroke="#111" stroke-width="0.2">PCoA axis 1</text>
<text x="9.6" y="422.90" font-size="11.15" font-weight="bold" text-anchor="middle" fill="#111" stroke="#111" stroke-width="0.2" transform="rotate(-90 9.6 422.90)">PCoA axis 2</text>
<text x="2.0" y="294.0" font-size="15.4" font-weight="bold" fill="#000" stroke="#000" stroke-width="0.2">D</text><clipPath id="clipE"><rect x="245.5" y="320.3" width="205.3" height="204.90000000000003"/></clipPath>
<g stroke="#eeeeee" stroke-width="1"><line x1="245.5" y1="340.20" x2="450.8" y2="340.20"/><line x1="277.50" y1="320.3" x2="277.50" y2="525.2"/><line x1="245.5" y1="372.60" x2="450.8" y2="372.60"/><line x1="309.90" y1="320.3" x2="309.90" y2="525.2"/><line x1="245.5" y1="405.00" x2="450.8" y2="405.00"/><line x1="374.70" y1="320.3" x2="374.70" y2="525.2"/><line x1="245.5" y1="469.80" x2="450.8" y2="469.80"/><line x1="407.10" y1="320.3" x2="407.10" y2="525.2"/><line x1="245.5" y1="502.20" x2="450.8" y2="502.20"/><line x1="439.50" y1="320.3" x2="439.50" y2="525.2"/></g>
<g stroke="#a0a0a0" stroke-width="1.1"><line x1="342.3" y1="320.3" x2="342.3" y2="525.2"/><line x1="245.5" y1="437.4" x2="450.8" y2="437.4"/></g>
<g clip-path="url(#clipE)"><ellipse cx="280.8" cy="438.6" rx="77.8" ry="16" transform="rotate(102.4 280.8 438.6)" fill="none" stroke="#bb55b7" stroke-width="0.45"/><path d="M297.51 362.61L264.09 514.59M296.43 442.04L265.17 435.16" stroke="#bb55b7" stroke-width="0.5" stroke-dasharray="0.6 1.2" fill="none"/><line x1="280" y1="439.7" x2="283.2" y2="372.2" stroke="#bb55b7" stroke-width="0.45"/><line x1="280" y1="439.7" x2="296.8" y2="365.2" stroke="#bb55b7" stroke-width="0.45"/><line x1="280" y1="439.7" x2="262" y2="478.2" stroke="#bb55b7" stroke-width="0.45"/><line x1="280" y1="439.7" x2="264.2" y2="488.6" stroke="#bb55b7" stroke-width="0.45"/><line x1="280" y1="439.7" x2="270.6" y2="476.6" stroke="#bb55b7" stroke-width="0.45"/><circle cx="283.2" cy="372.2" r="1.0" fill="#bb55b7"/><circle cx="296.8" cy="365.2" r="1.0" fill="#bb55b7"/><circle cx="262" cy="478.2" r="1.0" fill="#bb55b7"/><circle cx="264.2" cy="488.6" r="1.0" fill="#bb55b7"/><circle cx="270.6" cy="476.6" r="1.0" fill="#bb55b7"/><ellipse cx="293" cy="444.6" rx="29.5" ry="12.5" transform="rotate(77 293 444.6)" fill="none" stroke="#9b3fae" stroke-width="0.45"/><path d="M286.36 415.86L299.64 473.34M305.18 441.79L280.82 447.41" stroke="#9b3fae" stroke-width="0.5" stroke-dasharray="0.6 1.2" fill="none"/><line x1="292.4" y1="445.2" x2="284.2" y2="411.7" stroke="#9b3fae" stroke-width="0.45"/><line x1="292.4" y1="445.2" x2="278.5" y2="452.8" stroke="#9b3fae" stroke-width="0.45"/><line x1="292.4" y1="445.2" x2="294.3" y2="457" stroke="#9b3fae" stroke-width="0.45"/><line x1="292.4" y1="445.2" x2="302.2" y2="469.6" stroke="#9b3fae" stroke-width="0.45"/><line x1="292.4" y1="445.2" x2="297.5" y2="427.5" stroke="#9b3fae" stroke-width="0.45"/><circle cx="284.2" cy="411.7" r="1.0" fill="#9b3fae"/><circle cx="278.5" cy="452.8" r="1.0" fill="#9b3fae"/><circle cx="294.3" cy="457" r="1.0" fill="#9b3fae"/><circle cx="302.2" cy="469.6" r="1.0" fill="#9b3fae"/><circle cx="297.5" cy="427.5" r="1.0" fill="#9b3fae"/><ellipse cx="320.9" cy="433.9" rx="31" ry="15.5" transform="rotate(55 320.9 433.9)" fill="none" stroke="#3f55a9" stroke-width="0.45"/><path d="M303.12 408.51L338.68 459.29M333.60 425.01L308.20 442.79" stroke="#3f55a9" stroke-width="0.5" stroke-dasharray="0.6 1.2" fill="none"/><line x1="321.8" y1="435.1" x2="307.9" y2="417.4" stroke="#3f55a9" stroke-width="0.45"/><line x1="321.8" y1="435.1" x2="322.8" y2="414.9" stroke="#3f55a9" stroke-width="0.45"/><line x1="321.8" y1="435.1" x2="333.9" y2="443.4" stroke="#3f55a9" stroke-width="0.45"/><line x1="321.8" y1="435.1" x2="336.1" y2="444.9" stroke="#3f55a9" stroke-width="0.45"/><line x1="321.8" y1="435.1" x2="329.1" y2="460.1" stroke="#3f55a9" stroke-width="0.45"/><line x1="321.8" y1="435.1" x2="296.8" y2="419" stroke="#3f55a9" stroke-width="0.45"/><circle cx="307.9" cy="417.4" r="1.0" fill="#3f55a9"/><circle cx="322.8" cy="414.9" r="1.0" fill="#3f55a9"/><circle cx="333.9" cy="443.4" r="1.0" fill="#3f55a9"/><circle cx="336.1" cy="444.9" r="1.0" fill="#3f55a9"/><circle cx="329.1" cy="460.1" r="1.0" fill="#3f55a9"/><circle cx="296.8" cy="419" r="1.0" fill="#3f55a9"/><ellipse cx="352" cy="383" rx="66" ry="15.3" transform="rotate(93 352 383)" fill="none" stroke="#4cbb4c" stroke-width="0.45"/><path d="M355.45 317.09L348.55 448.91M367.28 383.80L336.72 382.20" stroke="#4cbb4c" stroke-width="0.5" stroke-dasharray="0.6 1.2" fill="none"/><line x1="350.9" y1="380" x2="361.2" y2="340.9" stroke="#4cbb4c" stroke-width="0.45"/><line x1="350.9" y1="380" x2="366.2" y2="347.3" stroke="#4cbb4c" stroke-width="0.45"/><line x1="350.9" y1="380" x2="348.1" y2="367.9" stroke="#4cbb4c" stroke-width="0.45"/><line x1="350.9" y1="380" x2="342.5" y2="371.5" stroke="#4cbb4c" stroke-width="0.45"/><line x1="350.9" y1="380" x2="336.1" y2="398" stroke="#4cbb4c" stroke-width="0.45"/><line x1="350.9" y1="380" x2="357.7" y2="472.6" stroke="#4cbb4c" stroke-width="0.45"/><circle cx="361.2" cy="340.9" r="1.0" fill="#4cbb4c"/><circle cx="366.2" cy="347.3" r="1.0" fill="#4cbb4c"/><circle cx="348.1" cy="367.9" r="1.0" fill="#4cbb4c"/><circle cx="342.5" cy="371.5" r="1.0" fill="#4cbb4c"/><circle cx="336.1" cy="398" r="1.0" fill="#4cbb4c"/><circle cx="357.7" cy="472.6" r="1.0" fill="#4cbb4c"/><ellipse cx="412.9" cy="385.4" rx="36.5" ry="10.2" transform="rotate(88 412.9 385.4)" fill="none" stroke="#e8913a" stroke-width="0.45"/><path d="M411.63 348.92L414.17 421.88M423.09 385.04L402.71 385.76" stroke="#e8913a" stroke-width="0.5" stroke-dasharray="0.6 1.2" fill="none"/><line x1="412.9" y1="385" x2="407.4" y2="365.7" stroke="#e8913a" stroke-width="0.45"/><line x1="412.9" y1="385" x2="426.3" y2="366.2" stroke="#e8913a" stroke-width="0.45"/><line x1="412.9" y1="385" x2="410.2" y2="376" stroke="#e8913a" stroke-width="0.45"/><line x1="412.9" y1="385" x2="411.5" y2="379.6" stroke="#e8913a" stroke-width="0.45"/><line x1="412.9" y1="385" x2="415.7" y2="435.9" stroke="#e8913a" stroke-width="0.45"/><circle cx="407.4" cy="365.7" r="1.0" fill="#e8913a"/><circle cx="426.3" cy="366.2" r="1.0" fill="#e8913a"/><circle cx="410.2" cy="376" r="1.0" fill="#e8913a"/><circle cx="411.5" cy="379.6" r="1.0" fill="#e8913a"/><circle cx="415.7" cy="435.9" r="1.0" fill="#e8913a"/><ellipse cx="384.5" cy="468.1" rx="40" ry="25" transform="rotate(62 384.5 468.1)" fill="none" stroke="#e7636f" stroke-width="0.45"/><path d="M365.72 432.78L403.28 503.42M406.57 456.36L362.43 479.84" stroke="#e7636f" stroke-width="0.5" stroke-dasharray="0.6 1.2" fill="none"/><line x1="384.8" y1="469.4" x2="362.6" y2="431" stroke="#e7636f" stroke-width="0.45"/><line x1="384.8" y1="469.4" x2="376.2" y2="443.9" stroke="#e7636f" stroke-width="0.45"/><line x1="384.8" y1="469.4" x2="370.4" y2="487.6" stroke="#e7636f" stroke-width="0.45"/><line x1="384.8" y1="469.4" x2="386" y2="503.8" stroke="#e7636f" stroke-width="0.45"/><line x1="384.8" y1="469.4" x2="389.5" y2="474.5" stroke="#e7636f" stroke-width="0.45"/><circle cx="362.6" cy="431" r="1.0" fill="#e7636f"/><circle cx="376.2" cy="443.9" r="1.0" fill="#e7636f"/><circle cx="370.4" cy="487.6" r="1.0" fill="#e7636f"/><circle cx="386" cy="503.8" r="1.0" fill="#e7636f"/><circle cx="389.5" cy="474.5" r="1.0" fill="#e7636f"/><ellipse cx="414.5" cy="458.3" rx="35" ry="12.5" transform="rotate(62 414.5 458.3)" fill="none" stroke="#c9202b" stroke-width="0.45"/><path d="M398.07 427.40L430.93 489.20M425.54 452.43L403.46 464.17" stroke="#c9202b" stroke-width="0.5" stroke-dasharray="0.6 1.2" fill="none"/><line x1="414" y1="459.6" x2="396.7" y2="430.6" stroke="#c9202b" stroke-width="0.45"/><line x1="414" y1="459.6" x2="404.5" y2="427.7" stroke="#c9202b" stroke-width="0.45"/><line x1="414" y1="459.6" x2="409" y2="472.6" stroke="#c9202b" stroke-width="0.45"/><line x1="414" y1="459.6" x2="415.3" y2="480.4" stroke="#c9202b" stroke-width="0.45"/><line x1="414" y1="459.6" x2="421.1" y2="465.4" stroke="#c9202b" stroke-width="0.45"/><line x1="414" y1="459.6" x2="426.6" y2="470" stroke="#c9202b" stroke-width="0.45"/><line x1="414" y1="459.6" x2="433.2" y2="468.7" stroke="#c9202b" stroke-width="0.45"/><circle cx="396.7" cy="430.6" r="1.0" fill="#c9202b"/><circle cx="404.5" cy="427.7" r="1.0" fill="#c9202b"/><circle cx="409" cy="472.6" r="1.0" fill="#c9202b"/><circle cx="415.3" cy="480.4" r="1.0" fill="#c9202b"/><circle cx="421.1" cy="465.4" r="1.0" fill="#c9202b"/><circle cx="426.6" cy="470" r="1.0" fill="#c9202b"/><circle cx="433.2" cy="468.7" r="1.0" fill="#c9202b"/><rect x="265.00" y="436.70" width="30.4" height="5.8" fill="#fff" stroke="#bb55b7" stroke-width="0.45"/><text x="280.20" y="441.60" font-size="5.6" fill="#bb55b7" text-anchor="middle" stroke="#bb55b7" stroke-width="0.05" textLength="27.62" lengthAdjust="spacingAndGlyphs">High-oat cntl</text><rect x="277.80" y="442.30" width="29.2" height="5.8" fill="#fff" stroke="#9b3fae" stroke-width="0.45"/><text x="292.40" y="447.20" font-size="5.6" fill="#9b3fae" text-anchor="middle" stroke="#9b3fae" stroke-width="0.05" textLength="24.33" lengthAdjust="spacingAndGlyphs">High-oat irr</text><rect x="304.65" y="431.90" width="34.7" height="5.8" fill="#fff" stroke="#3f55a9" stroke-width="0.45"/><text x="322.00" y="436.80" font-size="5.6" fill="#3f55a9" text-anchor="middle" stroke="#3f55a9" stroke-width="0.05" textLength="31.71" lengthAdjust="spacingAndGlyphs">Medium-oat irr</text><rect x="338.90" y="381.50" width="26.8" height="5.8" fill="#fff" stroke="#4cbb4c" stroke-width="0.45"/><text x="352.30" y="386.40" font-size="5.6" fill="#4cbb4c" text-anchor="middle" stroke="#4cbb4c" stroke-width="0.05" textLength="23.24" lengthAdjust="spacingAndGlyphs">Low-oat irr</text><rect x="401.20" y="384.20" width="23.4" height="5.8" fill="#fff" stroke="#e8913a" stroke-width="0.45"/><text x="412.90" y="389.10" font-size="5.6" fill="#e8913a" text-anchor="middle" stroke="#e8913a" stroke-width="0.05" textLength="20.50" lengthAdjust="spacingAndGlyphs">No-oat irr</text><rect x="368.00" y="466.50" width="33.6" height="5.8" fill="#fff" stroke="#e7636f" stroke-width="0.45"/><text x="384.80" y="471.40" font-size="5.6" fill="#e7636f" text-anchor="middle" stroke="#e7636f" stroke-width="0.05" textLength="27.62" lengthAdjust="spacingAndGlyphs">No–fiber cntl</text><rect x="398.70" y="456.70" width="30.6" height="5.8" fill="#fff" stroke="#c9202b" stroke-width="0.45"/><text x="414.00" y="461.60" font-size="5.6" fill="#c9202b" text-anchor="middle" stroke="#c9202b" stroke-width="0.05" textLength="24.33" lengthAdjust="spacingAndGlyphs">No–fiber irr</text></g>
<rect x="433.3" y="320.8" width="17" height="5.6" fill="#fff"/>
<text x="449.3" y="325.65000000000003" font-size="5.1" text-anchor="end" fill="#222">d = 0.1</text>
<rect x="245.5" y="320.3" width="205.3" height="204.90000000000003" fill="none" stroke="#9a9a9a" stroke-width="1"/>
<text x="348.15" y="315.70" font-size="11.15" font-weight="bold" text-anchor="middle" fill="#111" stroke="#111" stroke-width="0.2">6 weeks after irradiation</text>
<text x="348.15" y="536.70" font-size="11.05" font-weight="bold" text-anchor="middle" fill="#111" stroke="#111" stroke-width="0.2">PCoA axis 1</text>
<text x="242.5" y="422.75" font-size="11.15" font-weight="bold" text-anchor="middle" fill="#111" stroke="#111" stroke-width="0.2" transform="rotate(-90 242.5 422.75)">PCoA axis 2</text>
<text x="233.8" y="294.0" font-size="15.4" font-weight="bold" fill="#000" stroke="#000" stroke-width="0.2">E</text><circle cx="472.1" cy="361.10" r="2.9" fill="#bb55b7"/>
<text x="479.4" y="365.50" font-size="11.3" fill="#bb55b7">High-oat cntl</text>
<circle cx="472.1" cy="380.90" r="2.9" fill="#9b3fae"/>
<text x="479.4" y="385.30" font-size="11.3" fill="#9b3fae">High-oat irr</text>
<circle cx="472.1" cy="401.40" r="2.9" fill="#3f55a9"/>
<text x="479.4" y="405.80" font-size="11.3" fill="#3f55a9">Medium-oat irr</text>
<circle cx="472.1" cy="421.40" r="2.9" fill="#4cbb4c"/>
<text x="479.4" y="425.80" font-size="11.3" fill="#4cbb4c">Low-oat irr</text>
<circle cx="472.1" cy="441.30" r="2.9" fill="#e8913a"/>
<text x="479.4" y="445.70" font-size="11.3" fill="#e8913a">No-oat irr</text>
<circle cx="472.1" cy="460.20" r="2.9" fill="#e7636f"/>
<text x="479.4" y="464.60" font-size="11.3" fill="#e7636f">No–fiber cntl</text>
<circle cx="472.1" cy="479.90" r="2.9" fill="#c9202b"/>
<text x="479.4" y="484.30" font-size="11.3" fill="#c9202b">No–fiber irr</text></svg>
</body></html>
